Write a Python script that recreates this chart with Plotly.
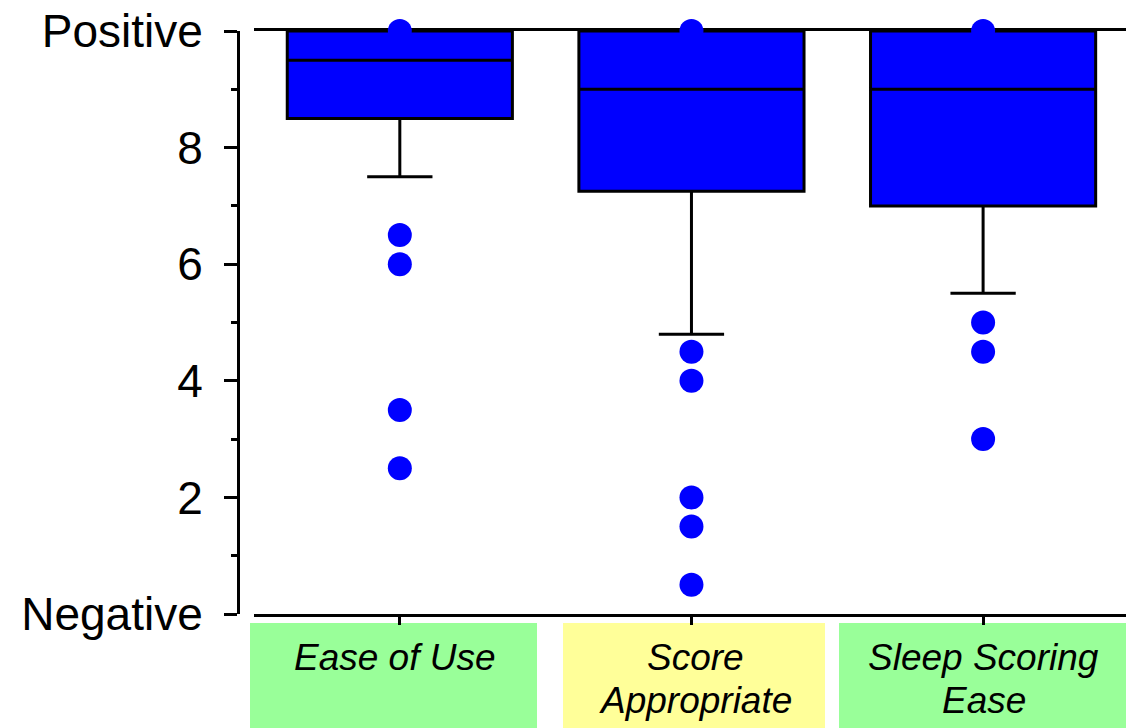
import plotly.graph_objects as go

# Survey ratings on a 0 (Negative) .. 10 (Positive) scale
categories = ["Ease of Use", "Score Appropriate", "Sleep Scoring Ease"]
label_lines = [["Ease of Use"], ["Score", "Appropriate"], ["Sleep Scoring", "Ease"]]
label_colors = ["#99FF99", "#FFFF99", "#99FF99"]

q1 = [8.5, 7.25, 7.0]
median = [9.5, 9.0, 9.0]
q3 = [10.0, 10.0, 10.0]
lower_whisker = [7.5, 4.8, 5.5]
upper_whisker = [10.0, 10.0, 10.0]

outliers = [
    [10.0, 6.5, 6.0, 3.5, 2.5],
    [10.0, 4.5, 4.0, 2.0, 1.5, 0.5],
    [10.0, 5.0, 4.5, 3.0],
]

y_tickvals = [0, 2, 4, 6, 8, 10]
y_ticktext = ["Negative", "2", "4", "6", "8", "Positive"]

FONT = "Liberation Sans, Arial, Helvetica, sans-serif"
W, H = 1126, 728
ML, MR, MT, MB = 238, 0, 31, 114
PW, PH = W - ML - MR, H - MT - MB


def px_x(p):
    return (p - ML) / PW


def px_y(p):
    return (H - MB - p) / PH


xpos = list(range(len(categories)))

fig = go.Figure()

fig.add_trace(go.Box(
    x=xpos,
    q1=q1, median=median, q3=q3,
    lowerfence=lower_whisker, upperfence=upper_whisker,
    width=0.772,
    whiskerwidth=0.29,
    fillcolor="#0000FF",
    line=dict(color="black", width=3),
    boxpoints=False,
    hoverinfo="skip",
    showlegend=False,
))

ox, oy = [], []
for i, vals in enumerate(outliers):
    ox += [xpos[i]] * len(vals)
    oy += vals

fig.add_trace(go.Scatter(
    x=ox, y=oy, mode="markers",
    marker=dict(size=24, color="#0000FF", line=dict(width=0)),
    cliponaxis=False,
    showlegend=False,
    hoverinfo="skip",
))

# Coloured label panels under the category axis
panel_px = [(250, 537), (563, 825), (839, 1126)]
shapes = []
annotations = []
line_centers_px = [657, 700]
for (x0, x1), color, lines in zip(panel_px, label_colors, label_lines):
    shapes.append(dict(
        type="rect", xref="paper", yref="paper",
        x0=px_x(x0), x1=px_x(x1), y0=px_y(728), y1=px_y(623),
        fillcolor=color, line=dict(width=0), layer="below",
    ))
    cx = px_x((x0 + x1) / 2 + 1)
    for k, txt in enumerate(lines):
        annotations.append(dict(
            x=cx, y=px_y(line_centers_px[k]), xref="paper", yref="paper",
            text="<i>%s</i>" % txt, showarrow=False,
            xanchor="center", yanchor="middle",
            font=dict(family=FONT, size=37, color="black"),
        ))

fig.update_layout(
    width=W, height=H,
    margin=dict(l=ML, r=MR, t=MT, b=MB, pad=0),
    plot_bgcolor="white", paper_bgcolor="white",
    showlegend=False,
    shapes=shapes,
    annotations=annotations,
    xaxis=dict(
        domain=[px_x(254), 1.0],
        range=[-0.5, 2.49],
        tickvals=xpos,
        showticklabels=False,
        ticks="outside", ticklen=8, tickwidth=3, tickcolor="black",
        showline=True, linecolor="black", linewidth=3, mirror=True,
        showgrid=False, zeroline=False,
        layer="below traces",
        fixedrange=True,
    ),
    yaxis=dict(
        anchor="free", position=0,
        range=[0, 10],
        tickvals=y_tickvals, ticktext=y_ticktext,
        ticks="outside", ticklen=13, tickwidth=3, tickcolor="black",
        minor=dict(dtick=1, ticks="outside", ticklen=6, tickwidth=3, tickcolor="black"),
        ticklabelstandoff=12,
        tickfont=dict(family=FONT, size=46, color="black"),
        showline=True, linecolor="black", linewidth=3,
        showgrid=False, zeroline=False,
        fixedrange=True,
    ),
)

fig.write_html("out.html")
